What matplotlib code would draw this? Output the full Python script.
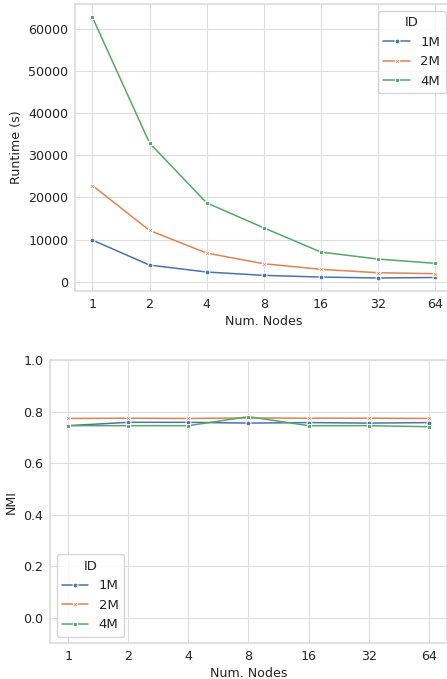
import matplotlib

matplotlib.use("Agg")
import matplotlib.pyplot as plt
import pandas as pd
import seaborn as sns

NODES = [1, 2, 4, 8, 16, 32, 64]
DATASET_IDS = ["1M", "2M", "4M"]
RUNTIME_1M = [9880, 3950, 2300, 1500, 1100, 880, 1000]
RUNTIME_2M = [22840, 12180, 6800, 4270, 2940, 2130, 1900]
RUNTIME_4M = [62800, 32940, 18720, 12800, 7040, 5380, 4360]
NMI_1M = [0.745, 0.758, 0.758, 0.755, 0.757, 0.755, 0.757]
NMI_2M = [0.773, 0.774, 0.773, 0.775, 0.774, 0.774, 0.773]
NMI_4M = [0.745, 0.745, 0.745, 0.780, 0.745, 0.745, 0.741]


def build_frame(column, series):
    rows = []
    for dataset_id, values in zip(DATASET_IDS, series):
        for node, value in zip(NODES, values):
            rows.append({"Num. Nodes": node, "ID": dataset_id, column: value})
    return pd.DataFrame(rows)


runtime_frame = build_frame("Runtime (s)", [RUNTIME_1M, RUNTIME_2M, RUNTIME_4M])
nmi_frame = build_frame("NMI", [NMI_1M, NMI_2M, NMI_4M])

sns.set_theme(style="whitegrid", rc={"grid.color": "#dddddd", "grid.linewidth": 0.8,
                                     "axes.edgecolor": "#dddddd"})
plt.rcParams["font.family"] = ["DejaVu Sans"]

figure = plt.figure(figsize=(4.47, 6.79), dpi=100)
top_axis = figure.add_axes([0.1685, 0.5714, 0.843, 0.4223])
bottom_axis = figure.add_axes([0.1119, 0.0526, 0.888, 0.4172])

for axis, frame, column, legend_location in (
    (top_axis, runtime_frame, "Runtime (s)", "upper right"),
    (bottom_axis, nmi_frame, "NMI", "lower left"),
):
    sns.lineplot(
        data=frame,
        x="Num. Nodes",
        y=column,
        hue="ID",
        style="ID",
        markers=True,
        dashes=False,
        markersize=3.5,
        linewidth=1.1,
        ax=axis,
    )
    axis.set_xscale("log", base=2)
    axis.set_xticks(NODES, [str(node) for node in NODES])
    axis.minorticks_off()
    axis.tick_params(labelsize=9.1, length=0, pad=5)
    axis.set_xlabel("Num. Nodes", fontsize=9.1, labelpad=3)
    axis.set_ylabel(column, fontsize=9.1, labelpad=4)
    axis.legend(title="ID", loc=legend_location, fontsize=9.5, title_fontsize=9.5)

top_axis.set_yticks([0, 10000, 20000, 30000, 40000, 50000, 60000])
bottom_axis.set_ylim(-0.1, 1.0)
bottom_axis.set_yticks([0.0, 0.2, 0.4, 0.6, 0.8, 1.0])

figure.savefig("out.png", dpi=100)
